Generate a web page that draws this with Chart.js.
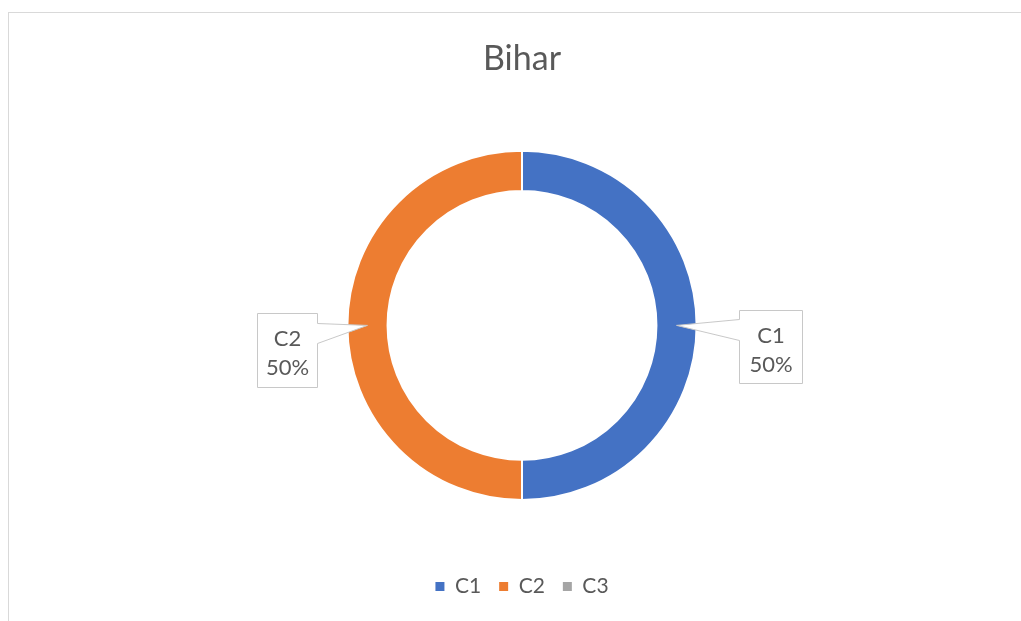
<!DOCTYPE html>
<html>
<head>
<meta charset="utf-8">
<script src="https://cdn.jsdelivr.net/npm/chart.js@4/dist/chart.umd.min.js"></script>
<style>
  html, body { margin: 0; padding: 0; background: #fff; }
  #wrap { width: 1021px; height: 621px; position: relative; }
</style>
</head>
<body>
<div id="wrap"><canvas id="bihar" width="1021" height="621"></canvas></div>
<script>
const categories = ['C1', 'C2', 'C3'];
const values = [50, 50, 0];
const colors = ['#4472C4', '#ED7D31', '#A5A5A5'];

const textColor = '#595959';
const fontFamily = 'Lato, "Open Sans", sans-serif';

// grey frame around the chart, like the spreadsheet chart border
const framePlugin = {
    id: 'frame',
    beforeDraw(chart) {
        const ctx = chart.ctx;
        ctx.save();
        ctx.strokeStyle = '#d9d9d9';
        ctx.lineWidth = 1;
        ctx.strokeRect(8.5, 12.5, chart.width + 20, chart.height + 20);
        ctx.restore();
    }
};

// callout boxes with a pointer into the ring
const calloutPlugin = {
    id: 'callouts',
    afterDatasetsDraw(chart) {
        const ctx = chart.ctx;
        const meta = chart.getDatasetMeta(0);
        const total = values.reduce((a, b) => a + b, 0);
        meta.data.forEach(function(arc, i) {
            if (!values[i]) return;
            const p = arc.getProps(['x', 'y', 'startAngle', 'endAngle', 'innerRadius', 'outerRadius'], true);
            const mid = (p.startAngle + p.endAngle) / 2;
            const dir = Math.cos(mid) >= 0 ? 1 : -1;
            const ringR = (p.innerRadius + p.outerRadius) / 2;
            const tipX = p.x + Math.cos(mid) * ringR;
            const tipY = p.y + Math.sin(mid) * ringR;

            const w = dir > 0 ? 63 : 60;
            const h = dir > 0 ? 73 : 74;
            const gap = dir > 0 ? 74 : 60;
            const cx = p.x + dir * (p.outerRadius + gap);
            const bx = Math.round(cx - w / 2) + 0.5;
            const by = Math.round(p.y - (dir > 0 ? 15 : 12)) + 0.5;

            ctx.save();
            ctx.beginPath();
            if (dir > 0) {
                ctx.moveTo(bx, by);
                ctx.lineTo(bx + w, by);
                ctx.lineTo(bx + w, by + h);
                ctx.lineTo(bx, by + h);
                ctx.lineTo(bx, by + 30);
                ctx.lineTo(tipX, tipY);
                ctx.lineTo(bx, by + 9);
            } else {
                ctx.moveTo(bx + w, by);
                ctx.lineTo(bx, by);
                ctx.lineTo(bx, by + h);
                ctx.lineTo(bx + w, by + h);
                ctx.lineTo(bx + w, by + 30);
                ctx.lineTo(tipX, tipY);
                ctx.lineTo(bx + w, by + 10);
            }
            ctx.closePath();
            ctx.fillStyle = '#ffffff';
            ctx.fill();
            ctx.strokeStyle = '#c8c8c8';
            ctx.lineWidth = 1;
            ctx.stroke();

            ctx.fillStyle = textColor;
            ctx.font = '22px ' + fontFamily;
            ctx.textAlign = 'center';
            ctx.textBaseline = 'middle';
            const tx = bx + w / 2;
            ctx.fillText(categories[i], tx, by + 25);
            ctx.fillText(Math.round(values[i] / total * 100) + '%', tx, by + 54);
            ctx.restore();
        });
    }
};

const ctx = document.getElementById('bihar').getContext('2d');
new Chart(ctx, {
    type: 'doughnut',
    data: {
        labels: categories,
        datasets: [{
            data: values,
            backgroundColor: colors,
            borderColor: '#ffffff',
            borderWidth: 2
        }]
    },
    options: {
        responsive: false,
        animation: false,
        cutout: '77%',
        layout: {
            padding: { top: 0, bottom: 14, left: 23, right: 0 }
        },
        plugins: {
            title: {
                display: true,
                text: 'Bihar',
                color: textColor,
                font: { family: fontFamily, size: 34, weight: 'normal' },
                padding: { top: 39, bottom: 70 }
            },
            legend: {
                position: 'bottom',
                title: {
                    display: true,
                    text: ' ',
                    font: { size: 10 },
                    padding: { top: 45, bottom: 0 }
                },
                labels: {
                    color: textColor,
                    font: { family: fontFamily, size: 21 },
                    boxWidth: 9,
                    boxHeight: 9,
                    padding: 18,
                    generateLabels(chart) {
                        return categories.map(function(c, i) {
                            return {
                                text: c,
                                fillStyle: colors[i],
                                strokeStyle: colors[i],
                                lineWidth: 0,
                                hidden: false,
                                index: i,
                                fontColor: textColor
                            };
                        });
                    }
                }
            },
            tooltip: { enabled: false }
        }
    },
    plugins: [framePlugin, calloutPlugin]
});
</script>
</body>
</html>
